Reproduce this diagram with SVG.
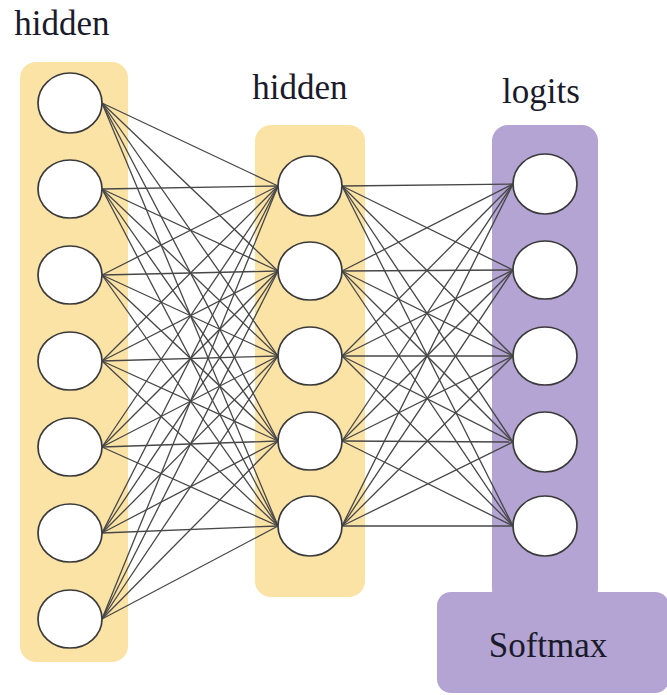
<svg xmlns="http://www.w3.org/2000/svg" width="667" height="695" viewBox="0 0 667 695">
  <style>
    .lbl { font-family: "Liberation Serif", "Times New Roman", serif; font-size: 35px; fill: #1a1a2a; text-anchor: middle; }
    .hid { fill: #FBE3A6; }
    .out { fill: #B3A4D4; }
    .unit { fill: #ffffff; stroke: #3a3a3a; stroke-width: 1.7; }
    #connectors line { stroke: #474747; stroke-width: 1.3; }
  </style>

  <!-- layer backgrounds -->
  <g id="layer-hidden-1">
    <rect class="hid" x="20" y="62" width="108" height="600" rx="16"/>
    <text class="lbl" x="62" y="35">hidden</text>
  </g>
  <g id="layer-hidden-2">
    <rect class="hid" x="255" y="125" width="110" height="472" rx="16"/>
    <text class="lbl" x="300" y="99">hidden</text>
  </g>
  <g id="layer-logits">
    <rect class="out" x="492" y="125" width="106" height="480" rx="16"/>
    <text class="lbl" x="541" y="103">logits</text>
  </g>
  <g id="softmax">
    <rect class="out" x="437" y="592" width="232" height="101" rx="14"/>
    <text class="lbl" x="548" y="657">Softmax</text>
  </g>

  <!-- fully connected weights -->
  <g id="connectors">
    <!-- hidden 1 -> hidden 2 -->
    <line x1="102" y1="103" x2="278" y2="186"/><line x1="102" y1="103" x2="278" y2="271"/><line x1="102" y1="103" x2="278" y2="356"/><line x1="102" y1="103" x2="278" y2="441"/><line x1="102" y1="103" x2="278" y2="526"/>
    <line x1="102" y1="189" x2="278" y2="186"/><line x1="102" y1="189" x2="278" y2="271"/><line x1="102" y1="189" x2="278" y2="356"/><line x1="102" y1="189" x2="278" y2="441"/><line x1="102" y1="189" x2="278" y2="526"/>
    <line x1="102" y1="275" x2="278" y2="186"/><line x1="102" y1="275" x2="278" y2="271"/><line x1="102" y1="275" x2="278" y2="356"/><line x1="102" y1="275" x2="278" y2="441"/><line x1="102" y1="275" x2="278" y2="526"/>
    <line x1="102" y1="361" x2="278" y2="186"/><line x1="102" y1="361" x2="278" y2="271"/><line x1="102" y1="361" x2="278" y2="356"/><line x1="102" y1="361" x2="278" y2="441"/><line x1="102" y1="361" x2="278" y2="526"/>
    <line x1="102" y1="447" x2="278" y2="186"/><line x1="102" y1="447" x2="278" y2="271"/><line x1="102" y1="447" x2="278" y2="356"/><line x1="102" y1="447" x2="278" y2="441"/><line x1="102" y1="447" x2="278" y2="526"/>
    <line x1="102" y1="533" x2="278" y2="186"/><line x1="102" y1="533" x2="278" y2="271"/><line x1="102" y1="533" x2="278" y2="356"/><line x1="102" y1="533" x2="278" y2="441"/><line x1="102" y1="533" x2="278" y2="526"/>
    <line x1="102" y1="619" x2="278" y2="186"/><line x1="102" y1="619" x2="278" y2="271"/><line x1="102" y1="619" x2="278" y2="356"/><line x1="102" y1="619" x2="278" y2="441"/><line x1="102" y1="619" x2="278" y2="526"/>
    <!-- hidden 2 -> logits -->
    <line x1="342" y1="186" x2="513" y2="184"/><line x1="342" y1="186" x2="513" y2="270"/><line x1="342" y1="186" x2="513" y2="356"/><line x1="342" y1="186" x2="513" y2="442"/><line x1="342" y1="186" x2="513" y2="526"/>
    <line x1="342" y1="271" x2="513" y2="184"/><line x1="342" y1="271" x2="513" y2="270"/><line x1="342" y1="271" x2="513" y2="356"/><line x1="342" y1="271" x2="513" y2="442"/><line x1="342" y1="271" x2="513" y2="526"/>
    <line x1="342" y1="356" x2="513" y2="184"/><line x1="342" y1="356" x2="513" y2="270"/><line x1="342" y1="356" x2="513" y2="356"/><line x1="342" y1="356" x2="513" y2="442"/><line x1="342" y1="356" x2="513" y2="526"/>
    <line x1="342" y1="441" x2="513" y2="184"/><line x1="342" y1="441" x2="513" y2="270"/><line x1="342" y1="441" x2="513" y2="356"/><line x1="342" y1="441" x2="513" y2="442"/><line x1="342" y1="441" x2="513" y2="526"/>
    <line x1="342" y1="526" x2="513" y2="184"/><line x1="342" y1="526" x2="513" y2="270"/><line x1="342" y1="526" x2="513" y2="356"/><line x1="342" y1="526" x2="513" y2="442"/><line x1="342" y1="526" x2="513" y2="526"/>
  </g>

  <!-- units -->
  <g id="h1-units">
    <ellipse class="unit" cx="70" cy="103" rx="32" ry="30"/>
    <ellipse class="unit" cx="70" cy="189" rx="32" ry="29"/>
    <ellipse class="unit" cx="70" cy="275" rx="32" ry="29"/>
    <ellipse class="unit" cx="70" cy="361" rx="32" ry="29"/>
    <ellipse class="unit" cx="70" cy="447" rx="32" ry="29"/>
    <ellipse class="unit" cx="70" cy="533" rx="32" ry="29"/>
    <ellipse class="unit" cx="70" cy="619" rx="32" ry="29"/>
  </g>
  <g id="h2-units">
    <ellipse class="unit" cx="310" cy="186" rx="32" ry="30"/>
    <ellipse class="unit" cx="310" cy="271" rx="32" ry="29"/>
    <ellipse class="unit" cx="310" cy="356" rx="32" ry="29"/>
    <ellipse class="unit" cx="310" cy="441" rx="32" ry="29"/>
    <ellipse class="unit" cx="310" cy="526" rx="32" ry="30"/>
  </g>
  <g id="logit-units">
    <ellipse class="unit" cx="545" cy="184" rx="32" ry="30"/>
    <ellipse class="unit" cx="545" cy="270" rx="32" ry="29"/>
    <ellipse class="unit" cx="545" cy="356" rx="32" ry="29"/>
    <ellipse class="unit" cx="545" cy="442" rx="32" ry="30"/>
    <ellipse class="unit" cx="545" cy="526" rx="32" ry="30"/>
  </g>
</svg>
